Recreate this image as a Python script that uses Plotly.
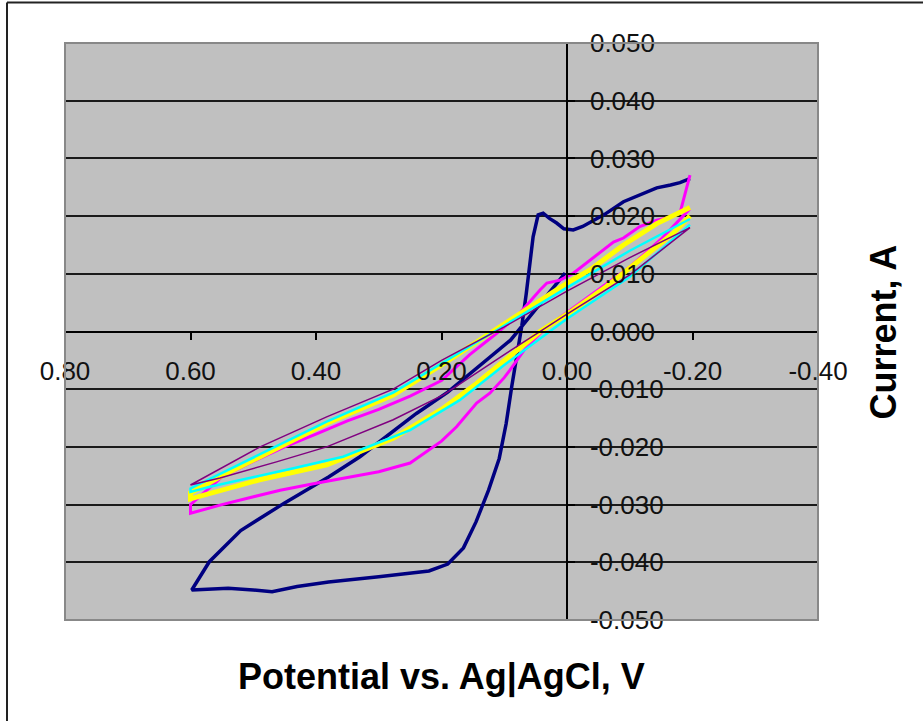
import plotly.graph_objects as go

# ---- data (potential V, current A) ----
x_ticks = [0.8, 0.6, 0.4, 0.2, 0.0, -0.2, -0.4]
x_tick_text = ["0.80", "0.60", "0.40", "0.20", "0.00", "-0.20", "-0.40"]
y_ticks = [0.05, 0.04, 0.03, 0.02, 0.01, 0.0, -0.01, -0.02, -0.03, -0.04, -0.05]
y_tick_text = ["0.050", "0.040", "0.030", "0.020", "0.010", "0.000",
               "-0.010", "-0.020", "-0.030", "-0.040", "-0.050"]

# cycle 1 (navy)
E1 = [0.003, 0.03, 0.06, 0.09, 0.12, 0.15, 0.19, 0.24, 0.28, 0.33, 0.38, 0.45, 0.52, 0.57, 0.598,
      0.57, 0.54, 0.50, 0.47, 0.43, 0.38, 0.30, 0.22, 0.19, 0.165, 0.145, 0.125, 0.108, 0.097, 0.088,
      0.080, 0.072, 0.065, 0.059, 0.054, 0.046, 0.038, 0.028, 0.0165, 0.005, -0.01, -0.025, -0.042,
      -0.06, -0.09, -0.116, -0.143, -0.165, -0.18, -0.196]
I1 = [0.0101, 0.0064, 0.0025, -0.0015, -0.0042, -0.0068, -0.0105, -0.0142, -0.0175, -0.0217, -0.0252,
      -0.0297, -0.0345, -0.0399, -0.0448,
      -0.0447, -0.0445, -0.0448, -0.0451, -0.0442, -0.0434, -0.0425, -0.0415, -0.0403, -0.0375,
      -0.0330, -0.0275, -0.0220, -0.0160, -0.0095, -0.0045, 0.0010, 0.0065, 0.0124, 0.0164, 0.0202,
      0.0205, 0.0196, 0.0188, 0.0178, 0.0176, 0.0182, 0.0193, 0.0203, 0.0225, 0.0236, 0.0249, 0.0254,
      0.0258, 0.0265]

# cycle 2 (magenta)
E2u = [-0.196, -0.18, -0.165, -0.143, -0.116, -0.09, -0.074, -0.037, -0.01, 0.011, 0.032, 0.043,
       0.08, 0.112, 0.155, 0.2, 0.25, 0.3, 0.35, 0.4, 0.45, 0.5, 0.55, 0.6]
I2u = [0.0271, 0.0205, 0.0198, 0.0193, 0.0182, 0.0162, 0.0155, 0.0124, 0.0101, 0.0089, 0.0084, 0.0072,
       0.0026, -0.0003, -0.0040, -0.0085, -0.0112, -0.0135, -0.0155, -0.0178, -0.0200, -0.0225,
       -0.0252, -0.0300]
E2l = [0.6, 0.55, 0.5, 0.457, 0.4, 0.35, 0.3, 0.25, 0.2, 0.176, 0.144, 0.123, 0.1, 0.091, 0.064,
       0.032, -0.005, -0.05, -0.1, -0.15, -0.196]
I2l = [-0.0315, -0.0300, -0.0286, -0.0275, -0.0263, -0.0253, -0.0243, -0.0228, -0.0190, -0.0165,
       -0.0124, -0.0107, -0.0080, -0.0067, -0.0026, 0.0008, 0.0037, 0.0072, 0.0112, 0.0160, 0.0213]

# cycle 3 (yellow)
E3u = [-0.196, -0.143, -0.09, -0.037, 0.0, 0.1, 0.2, 0.277, 0.383, 0.489, 0.55, 0.6]
I3u = [0.0215, 0.0187, 0.0150, 0.0107, 0.0084, 0.0012, -0.0058, -0.0110, -0.0159, -0.0217, -0.0250, -0.0280]
E3l = [0.6, 0.49, 0.383, 0.277, 0.2, 0.144, 0.1, 0.043, -0.01, -0.063, -0.116, -0.169, -0.196]
I3l = [-0.0290, -0.0257, -0.0231, -0.0185, -0.0135, -0.0090, -0.0050, 0.0000, 0.0037, 0.0078,
       0.0124, 0.0170, 0.0200]

# cycle 4 (cyan)
E4u = [-0.196, -0.1, 0.0, 0.1, 0.2, 0.277, 0.383, 0.489, 0.6]
I4u = [0.0195, 0.0140, 0.0076, 0.0010, -0.0056, -0.0106, -0.0156, -0.0212, -0.0272]
E4l = [0.6, 0.569, 0.436, 0.357, 0.25, 0.171, 0.1, 0.0, -0.1, -0.196]
I4l = [-0.0278, -0.0269, -0.0237, -0.0217, -0.0171, -0.0119, -0.0058, 0.0022, 0.0095, 0.0185]

# cycle 5 (purple)
E5u = [-0.196, -0.1, 0.0, 0.1, 0.2, 0.277, 0.383, 0.489, 0.6]
I5u = [0.0180, 0.0128, 0.0070, 0.0008, -0.0050, -0.0100, -0.0148, -0.0200, -0.0266]
E5l = [0.6, 0.553, 0.463, 0.383, 0.277, 0.197, 0.1, 0.0, -0.1, -0.196]
I5l = [-0.0266, -0.0254, -0.0226, -0.0200, -0.0153, -0.0110, -0.0040, 0.0030, 0.0098, 0.0180]

series = [
    ("Cycle 1", E1, I1, "#000080", 3.5),
    ("Cycle 2", E2u + E2l, I2u + I2l, "#FF00FF", 3),
    ("Cycle 3", E3u + E3l, I3u + I3l, "#FFFF00", 5),
    ("Cycle 4", E4u + E4l, I4u + I4l, "#00FFFF", 2.5),
    ("Cycle 5", E5u + E5l, I5u + I5l, "#800080", 1.5),
]

W, H = 923, 721
L, R, T, B = 65, 818, 43, 620

fig = go.Figure()
for name, ex, iy, col, w in series:
    fig.add_trace(go.Scatter(x=ex, y=iy, mode="lines", name=name,
                             line=dict(color=col, width=w), showlegend=False))

tick_font = dict(family="Liberation Sans, Arial, sans-serif", size=26, color="#111111")
title_font = dict(family="Liberation Sans, Arial, sans-serif", size=36, color="#000000")

fig.update_layout(
    width=W, height=H,
    margin=dict(l=L, r=W - R, t=T, b=H - B, pad=0),
    paper_bgcolor="white",
    plot_bgcolor="#C0C0C0",
    xaxis=dict(
        range=[0.8, -0.4], tickvals=x_ticks, ticktext=x_tick_text,
        anchor="free", position=0.5, showgrid=False, zeroline=False,
        showline=True, linecolor="#000000", linewidth=2,
        ticks="outside", ticklen=7, tickwidth=1.5, tickcolor="#000000",
        ticklabelstandoff=9, tickfont=tick_font,
    ),
    yaxis=dict(
        range=[-0.05, 0.05], tickvals=y_ticks, ticktext=y_tick_text,
        anchor="free", position=(0.8 - 0.0) / 1.2, side="right",
        showgrid=True, gridcolor="#1a1a1a", gridwidth=2, zeroline=False,
        showline=True, linecolor="#000000", linewidth=1.5,
        ticks="outside", ticklen=7, tickwidth=1.5, tickcolor="#000000",
        ticklabelstandoff=10, tickfont=tick_font,
    ),
    shapes=[
        # plot-area border
        dict(type="rect", xref="paper", yref="paper", x0=0, y0=0, x1=1, y1=1,
             line=dict(color="#888888", width=2), layer="above"),
        # chart frame (top and left edges)
        dict(type="line", xref="paper", yref="paper",
             x0=(7 - L) / (R - L), x1=(W - L) / (R - L),
             y0=(B - 2.5) / (B - T), y1=(B - 2.5) / (B - T),
             line=dict(color="#222222", width=2)),
        dict(type="line", xref="paper", yref="paper",
             x0=(7 - L) / (R - L), x1=(7 - L) / (R - L),
             y0=(B - 2.5) / (B - T), y1=(B - H) / (B - T),
             line=dict(color="#222222", width=2)),
    ],
    annotations=[
        dict(text="<b>Potential vs. Ag|AgCl, V</b>", xref="paper", yref="paper",
             x=0.5, y=(B - 677) / (B - T), xanchor="center", yanchor="middle",
             showarrow=False, font=title_font),
        dict(text="<b>Current, A</b>", xref="paper", yref="paper",
             x=(883 - L) / (R - L), y=0.5, xanchor="center", yanchor="middle",
             textangle=-90, showarrow=False, font=title_font),
    ],
)

fig.write_html("out.html")
